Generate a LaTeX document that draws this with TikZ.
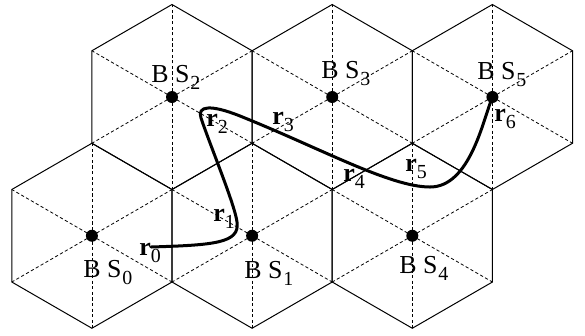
\documentclass[tikz,border=0pt]{standalone}
\usepackage{fontspec}
\setmainfont{Liberation Serif}
\usetikzlibrary{positioning}
\newcommand{\lowidx}[1]{\raisebox{-3.8bp}{\fontsize{10}{11}\selectfont #1}}
\newcommand{\bsname}[1]{B\hspace{3.2bp}S\hspace{0.4bp}\lowidx{#1}}
\newcommand{\rname}[1]{{\fontsize{13}{15}\selectfont\textbf{r}}\lowidx{#1}}

\begin{document}
\begin{tikzpicture}[
  x=0.5bp, y=-0.5bp,
  font=\fontsize{13}{15}\selectfont,
  cell/.style={line width=0.5bp, draw=black, line join=miter},
  spoke/.style={line width=0.4bp, dash pattern=on 1.6bp off 1.2bp},
  bsdot/.style={circle, fill=black, inner sep=0pt, minimum size=6bp},
  lbl/.style={inner sep=0pt, anchor=base west},
  track/.style={line width=1.5bp, line cap=round}
]
\useasboundingbox (0,0) rectangle (585,335);

\foreach \cx/\cy in {172/97, 332.2/97, 492.4/97, 91.9/235.75, 252.1/235.75, 412.3/235.75}{
  \foreach \a in {30,90,...,330}
    \draw[spoke] (\cx,\cy) -- +(\a:92.5);
  \draw[cell] (\cx,\cy) +(30:92.5) -- +(90:92.5) -- +(150:92.5) -- +(210:92.5) -- +(270:92.5) -- +(330:92.5) -- cycle;
}

\node[bsdot] (bs0) at (91.9,235.75) {};
\node[bsdot] (bs1) at (252.1,235.75) {};
\node[bsdot] (bs2) at (172,97) {};
\node[bsdot] (bs3) at (332.2,97) {};
\node[bsdot] (bs4) at (412.3,235.75) {};
\node[bsdot] (bs5) at (492.4,97) {};

\node[lbl] (bs0name) at (83,277) {\bsname{0}};
\node[lbl] (bs1name) at (244,278) {\bsname{1}};
\node[lbl] (bs2name) at (151,82) {\bsname{2}};
\node[lbl] (bs3name) at (321,78) {\bsname{3}};
\node[lbl] (bs4name) at (399,273) {\bsname{4}};
\node[lbl] (bs5name) at (477,79) {\bsname{5}};

\coordinate (start) at (151,247);
\draw[track] (start) .. controls (215,245) and (240,243) .. (237,222)
  .. controls (235,205) and (210,145) .. (201,118)
  .. controls (197,106) and (210,104) .. (240,116)
  .. controls (320,148) and (390,187) .. (430,187)
  .. controls (470,187) and (483,120) .. (bs5.center);

\node[lbl] (r0) at (139,255) {\rname{0}};
\node[lbl] (r1) at (213,221) {\rname{1}};
\node[lbl] (r2) at (206,126) {\rname{2}};
\node[lbl] (r3) at (272,124) {\rname{3}};
\node[lbl] (r4) at (343,181) {\rname{4}};
\node[lbl] (r5) at (405,171) {\rname{5}};
\node[lbl] (r6) at (494,121) {\rname{6}};
\end{tikzpicture}
\end{document}
